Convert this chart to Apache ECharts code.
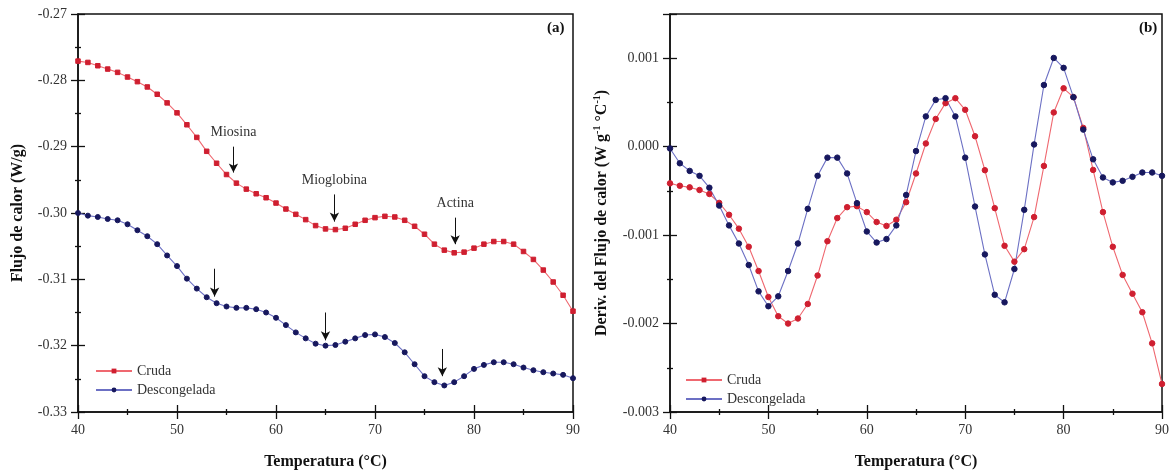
<!DOCTYPE html>
<html>
<head>
<meta charset="utf-8">
<script src="https://cdn.jsdelivr.net/npm/echarts@6/dist/echarts.min.js"></script>
<style>
  html, body { margin: 0; padding: 0; background: #fff; }
  #chart { width: 1172px; height: 475px; }
</style>
</head>
<body>
<div id="chart"></div>
<script>
// Temperature (°C), one reading per degree
const temps = [40,41,42,43,44,45,46,47,48,49,50,51,52,53,54,55,56,57,58,59,60,61,62,63,64,65,
               66,67,68,69,70,71,72,73,74,75,76,77,78,79,80,81,82,83,84,85,86,87,88,89,90];

// (a) heat flow, W/g
const flujoCruda = [-0.2771,-0.2773,-0.2778,-0.2783,-0.2788,-0.2795,-0.2802,-0.2810,-0.2821,-0.2834,
  -0.2849,-0.2867,-0.2886,-0.2907,-0.2925,-0.2942,-0.2955,-0.2964,-0.2971,-0.2977,-0.2985,-0.2994,
  -0.3002,-0.3010,-0.3019,-0.3024,-0.3025,-0.3023,-0.3017,-0.3011,-0.3007,-0.3005,-0.3006,-0.3011,
  -0.3020,-0.3032,-0.3047,-0.3056,-0.3060,-0.3059,-0.3053,-0.3047,-0.3043,-0.3043,-0.3047,-0.3058,
  -0.3070,-0.3086,-0.3104,-0.3124,-0.3148];
const flujoDescongelada = [-0.3000,-0.3004,-0.3006,-0.3009,-0.3011,-0.3017,-0.3026,-0.3035,-0.3047,
  -0.3064,-0.3080,-0.3099,-0.3114,-0.3127,-0.3136,-0.3141,-0.3143,-0.3143,-0.3145,-0.3150,-0.3158,
  -0.3169,-0.3180,-0.3189,-0.3197,-0.3200,-0.3199,-0.3194,-0.3189,-0.3184,-0.3183,-0.3187,-0.3196,
  -0.3210,-0.3228,-0.3246,-0.3255,-0.3260,-0.3255,-0.3246,-0.3235,-0.3229,-0.3225,-0.3225,-0.3228,
  -0.3233,-0.3237,-0.3240,-0.3242,-0.3244,-0.3249];

// (b) derivative of heat flow, W g-1 °C-1
const derivCruda = [-0.000415,-0.000442,-0.000460,-0.000490,-0.000535,-0.000636,-0.000770,-0.000927,
  -0.001132,-0.001406,-0.001700,-0.001917,-0.002000,-0.001943,-0.001779,-0.001457,-0.001069,-0.000807,
  -0.000684,-0.000673,-0.000740,-0.000852,-0.000896,-0.000826,-0.000628,-0.000303,0.000036,0.000313,
  0.000492,0.000548,0.000417,0.000118,-0.000266,-0.000695,-0.001121,-0.001300,-0.001159,-0.000796,
  -0.000218,0.000387,0.000660,0.000560,0.000212,-0.000263,-0.000740,-0.001132,-0.001450,-0.001663,
  -0.001872,-0.002224,-0.002683];
const derivDescongelada = [-0.000020,-0.000188,-0.000274,-0.000330,-0.000464,-0.000666,-0.000890,
  -0.001095,-0.001338,-0.001636,-0.001804,-0.001692,-0.001406,-0.001095,-0.000703,-0.000330,-0.000124,
  -0.000124,-0.000303,-0.000639,-0.000959,-0.001084,-0.001045,-0.000890,-0.000546,-0.000050,0.000342,
  0.000529,0.000548,0.000342,-0.000124,-0.000677,-0.001218,-0.001675,-0.001760,-0.001383,-0.000714,
  0.000025,0.000697,0.001003,0.000891,0.000560,0.000193,-0.000143,-0.000348,-0.000404,-0.000386,
  -0.000341,-0.000292,-0.000292,-0.000330];

// Transition arrows on (a): temperature, arrow top, arrow tip, label
const picosCruda = [
  { t: 55.7, from: -0.2900, to: -0.2939, name: 'Miosina' },
  { t: 65.9, from: -0.2972, to: -0.3013, name: 'Mioglobina' },
  { t: 78.1, from: -0.3007, to: -0.3047, name: 'Actina' }
];
const picosDescongelada = [
  { t: 53.8, from: -0.3084, to: -0.3126 },
  { t: 65.0, from: -0.3150, to: -0.3192 },
  { t: 76.8, from: -0.3205, to: -0.3246 }
];

const serieNames = ['Cruda', 'Descongelada'];
const xLabel = 'Temperatura (°C)';
const yLabelA = 'Flujo de calor (W/g)';

const SERIF = '"Liberation Serif", "DejaVu Serif", serif';
const RED_LINE = '#ef6870', RED_DOT = '#cf1f30';
const BLUE_LINE = '#6c70c4', BLUE_DOT = '#17185e';

const pairs = (vals) => temps.map((t, i) => [t, vals[i]]);

function arrowMarks(list, withLabel) {
  return {
    silent: true,
    symbol: ['none', 'arrow'],
    symbolSize: [7, 9],
    lineStyle: { color: '#111', width: 1, type: 'solid' },
    label: {
      show: withLabel, position: 'start', distance: 7,
      formatter: (p) => p.name,
      fontFamily: SERIF, fontSize: 14, color: '#333'
    },
    emphasis: { disabled: true },
    data: list.map(a => [
      { coord: [a.t, a.from], name: a.name || '' },
      { coord: [a.t, a.to] }
    ])
  };
}

// Each panel gets an outer axis (line, labels, outward ticks) and an inner
// companion axis that only draws inward ticks, so ticks cross the frame.
function xAxes(grid, name) {
  const base = { type: 'value', gridIndex: grid, min: 40, max: 90, interval: 10, position: 'bottom',
                 splitLine: { show: false } };
  return [
    Object.assign({}, base, {
      name: name, nameLocation: 'middle', nameGap: 42,
      nameTextStyle: { fontFamily: SERIF, fontSize: 16, fontWeight: 'bold', color: '#111' },
      axisLine: { show: true, onZero: false, lineStyle: { color: '#111', width: 1.5 } },
      axisTick: { show: true, inside: false, length: 7, lineStyle: { color: '#111', width: 1.3 } },
      minorTick: { show: true, splitNumber: 2, length: 3, lineStyle: { color: '#111', width: 1.3 } },
      axisLabel: { margin: 11, fontFamily: SERIF, fontSize: 14, color: '#333' }
    }),
    Object.assign({}, base, {
      axisLine: { show: false, onZero: false },
      axisTick: { show: true, inside: true, length: 7, lineStyle: { color: '#111', width: 1.3 } },
      minorTick: { show: true, splitNumber: 2, length: 3, lineStyle: { color: '#111', width: 1.3 } },
      axisLabel: { show: false }
    })
  ];
}

function yAxes(grid, min, max, interval, fmt, name, gap, nameStyle) {
  const base = { type: 'value', gridIndex: grid, min: min, max: max, interval: interval, position: 'left',
                 splitLine: { show: false } };
  return [
    Object.assign({}, base, {
      name: name, nameLocation: 'middle', nameGap: gap,
      nameTextStyle: nameStyle,
      axisLine: { show: true, onZero: false, lineStyle: { color: '#111', width: 1.5 } },
      axisTick: { show: true, inside: false, length: 7, lineStyle: { color: '#111', width: 1.3 } },
      minorTick: { show: true, splitNumber: 2, length: 3, lineStyle: { color: '#111', width: 1.3 } },
      axisLabel: { margin: 11, fontFamily: SERIF, fontSize: 14, color: '#333', formatter: fmt,
                   showMaxLabel: (Math.abs((max - min) / interval - Math.round((max - min) / interval)) < 1e-6) }
    }),
    Object.assign({}, base, {
      axisLine: { show: false, onZero: false },
      axisTick: { show: true, inside: true, length: 7, lineStyle: { color: '#111', width: 1.3 } },
      minorTick: { show: true, splitNumber: 2, length: 3, lineStyle: { color: '#111', width: 1.3 } },
      axisLabel: { show: false }
    })
  ];
}

const fmtA = (v) => v.toFixed(2);
const fmtB = (v) => (Math.abs(v) < 1e-9 ? 0 : v).toFixed(3);

const nameStyleA = { fontFamily: SERIF, fontSize: 16, fontWeight: 'bold', color: '#111' };
const nameStyleB = {
  fontFamily: SERIF, fontSize: 16, fontWeight: 'bold', color: '#111',
  rich: {
    b: { fontFamily: SERIF, fontSize: 16, fontWeight: 'bold', color: '#111', lineHeight: 20 },
    s: { fontFamily: SERIF, fontSize: 10, fontWeight: 'bold', color: '#111', lineHeight: 20,
         verticalAlign: 'top', padding: [0, 0, 8, 0] }
  }
};
const yLabelB = '{b|Deriv. del Flujo de calor (W g}{s|-1}{b| °C}{s|-1}{b|)}';

function lineSeries(name, xi, yi, data, lineColor, dotColor, symbol, size, marks) {
  const s = {
    name: name, type: 'line', xAxisIndex: xi, yAxisIndex: yi, data: data,
    symbol: symbol, symbolSize: size, showSymbol: true,
    lineStyle: { color: lineColor, width: 1.1 },
    itemStyle: { color: dotColor, borderColor: dotColor },
    emphasis: { disabled: true },
    animation: false, z: 3
  };
  if (marks) s.markLine = marks;
  return s;
}

const legendText = { fontFamily: SERIF, fontSize: 14, color: '#333' };

const option = {
  backgroundColor: '#fff',
  animation: false,
  grid: [
    { left: 78, top: 14, width: 495, height: 399, show: true, borderColor: '#111', borderWidth: 1.5,
      backgroundColor: 'transparent', containLabel: false },
    { left: 670, top: 14, width: 496, height: 401, show: true, borderColor: '#111', borderWidth: 1.5,
      backgroundColor: 'transparent', containLabel: false }
  ],
  xAxis: [].concat(xAxes(0, xLabel), xAxes(1, xLabel)),
  yAxis: [].concat(
    yAxes(0, -0.33, -0.27, 0.01, fmtA, yLabelA, 52, nameStyleA),
    yAxes(1, -0.003, 0.0015, 0.001, fmtB, yLabelB, 58, nameStyleB)
  ),
  legend: [
    { data: serieNames, orient: 'vertical', left: 90, top: 359, itemWidth: 36, itemHeight: 6, itemGap: 5,
      selectedMode: false, textStyle: legendText },
    { data: serieNames, orient: 'vertical', left: 680, top: 368, itemWidth: 36, itemHeight: 6, itemGap: 5,
      selectedMode: false, textStyle: legendText }
  ],
  graphic: [
    { type: 'text', left: 547, top: 21, style: { text: '(a)', font: 'bold 15px ' + SERIF, fill: '#111' } },
    { type: 'text', left: 1139, top: 21, style: { text: '(b)', font: 'bold 15px ' + SERIF, fill: '#111' } }
  ],
  series: [
    lineSeries(serieNames[0], 0, 0, pairs(flujoCruda), RED_LINE, RED_DOT, 'rect', 4.5,
               arrowMarks(picosCruda, true)),
    lineSeries(serieNames[1], 0, 0, pairs(flujoDescongelada), BLUE_LINE, BLUE_DOT, 'circle', 5,
               arrowMarks(picosDescongelada, false)),
    lineSeries(serieNames[0], 2, 2, pairs(derivCruda), RED_LINE, RED_DOT, 'circle', 5.5, null),
    lineSeries(serieNames[1], 2, 2, pairs(derivDescongelada), BLUE_LINE, BLUE_DOT, 'circle', 5.5, null)
  ]
};

const chart = echarts.init(document.getElementById('chart'), null, { renderer: 'canvas' });
chart.setOption(option);
</script>
</body>
</html>
